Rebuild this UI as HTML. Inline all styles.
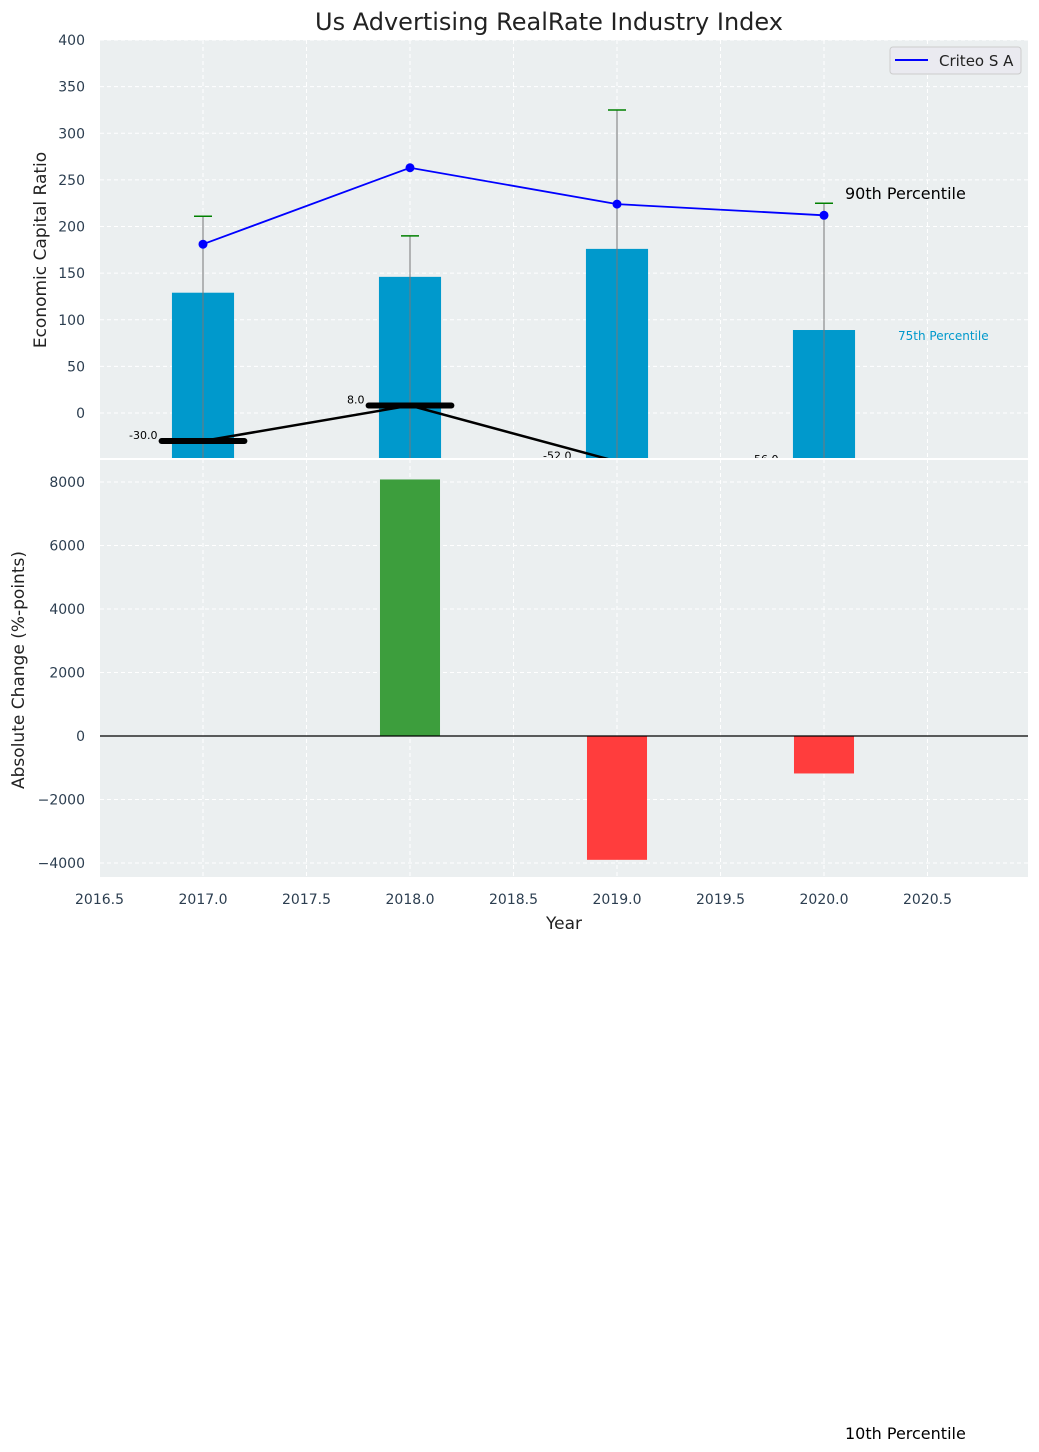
<!DOCTYPE html>
<html><head><meta charset="utf-8"><style>
body{margin:0;background:#fff;}
svg{display:block;font-family:"DejaVu Sans","Liberation Sans",sans-serif;}
</style></head><body>
<svg id="c" width="1039" height="1452" xmlns="http://www.w3.org/2000/svg"></svg>
<script>
const years=[2017,2018,2019,2020];
const barVals=[129,146,176,89];
const lineVals=[181,263,224,212];
const upperCaps=[211,190,325,225];
const medianVals=[-30,8,-52,-56];
const changeYears=[2018,2019,2020];
const changeVals=[8080,-3900,-1180];
const xTicks=[2016.5,2017.0,2017.5,2018.0,2018.5,2019.0,2019.5,2020.0,2020.5];
const yTicksTop=[0,50,100,150,200,250,300,350,400];
const yTicksBot=[-4000,-2000,0,2000,4000,6000,8000];

const NS="http://www.w3.org/2000/svg";
const svg=document.getElementById('c');
function mk(t,a,p){const e=document.createElementNS(NS,t);for(const k in a)e.setAttribute(k,a[k]);(p||svg).appendChild(e);return e;}
const L=100,R=1028;
const x=v=>99.5+(v-2016.5)*207;
const T0=40,T1=459,yT=v=>413-v*0.9325;
const B0=459,B1=877,yB=v=>736-v*0.03175;

// title
let t=mk('text',{x:549,y:30,'text-anchor':'middle','font-size':24,fill:'#222'});t.textContent='Us Advertising RealRate Industry Index';


// top panel
let g=mk('g',{'clip-path':'url(#ct)'});

let defs=mk('defs',{});
let cp=mk('clipPath',{id:'ct'},defs);mk('rect',{x:L,y:T0,width:R-L,height:T1-T0},cp);
let cp2=mk('clipPath',{id:'cb'},defs);mk('rect',{x:L,y:B0,width:R-L,height:B1-B0},cp2);
mk('rect',{x:L,y:T0,width:R-L,height:T1-T0,fill:'#ebeff0'},g);
xTicks.forEach(v=>mk('line',{x1:x(v),x2:x(v),y1:T0,y2:T1,stroke:'#fff','stroke-dasharray':'4,3','stroke-width':1},g));
yTicksTop.forEach(v=>mk('line',{x1:L,x2:R,y1:yT(v),y2:yT(v),stroke:'#fff','stroke-dasharray':'4,3','stroke-width':1},g));
years.forEach((yr,i)=>{
  const b=mk('rect',{x:x(yr-0.15),y:yT(barVals[i]),width:0.3*207,height:T1-yT(barVals[i])+5,fill:'#0099cc'},g);
  
  mk('line',{x1:x(yr),x2:x(yr),y1:yT(upperCaps[i]),y2:T1,stroke:'#777','stroke-width':1},g);
  const c=mk('line',{x1:x(yr)-9,x2:x(yr)+9,y1:yT(upperCaps[i]),y2:yT(upperCaps[i]),stroke:'green','stroke-width':1.5},g);
  
});
let p=mk('polyline',{points:years.map((yr,i)=>x(yr)+','+yT(lineVals[i])).join(' '),fill:'none',stroke:'blue','stroke-width':1.8},g);

years.forEach((yr,i)=>{const d=mk('circle',{cx:x(yr),cy:yT(lineVals[i]),r:4.5,fill:'blue'},g);
  });
let m=mk('polyline',{points:years.map((yr,i)=>x(yr)+','+yT(medianVals[i])).join(' '),fill:'none',stroke:'#000','stroke-width':2.5},g);

years.forEach((yr,i)=>{
  mk('line',{x1:x(yr-0.2),x2:x(yr+0.2),y1:yT(medianVals[i]),y2:yT(medianVals[i]),stroke:'#000','stroke-width':6,'stroke-linecap':'round'},g);
  const l=mk('text',{x:x(yr-0.22),y:yT(medianVals[i])-2,'text-anchor':'end','font-size':11,fill:'#000'},g);
  l.textContent=medianVals[i].toFixed(1);
  
});
t=mk('text',{x:845,y:199,'font-size':16,fill:'#000'});t.textContent='90th Percentile';

t=mk('text',{x:898,y:340,'font-size':12,fill:'#0099cc'});t.textContent='75th Percentile';

// legend
let lg=mk('g',{});
mk('rect',{x:890,y:47,width:131,height:27,rx:3,fill:'#eaeaf0',stroke:'#ccc'},lg);
mk('line',{x1:895,x2:928,y1:60,y2:60,stroke:'blue','stroke-width':2},lg);
t=mk('text',{x:939,y:66,'font-size':15,fill:'#222'},lg);t.textContent='Criteo S A';
// top y ticks
yTicksTop.forEach(v=>{const e=mk('text',{x:85,y:yT(v)+5,'text-anchor':'end','font-size':14,fill:'#2c3e50'});e.textContent=v;
  });
t=mk('text',{x:46,y:250,'text-anchor':'middle','font-size':17,fill:'#222',transform:'rotate(-90 46 250)'});t.textContent='Economic Capital Ratio';


// bottom panel
g=mk('g',{'clip-path':'url(#cb)'});

mk('rect',{x:L,y:B0,width:R-L,height:B1-B0,fill:'#ebeff0'},g);
xTicks.forEach(v=>mk('line',{x1:x(v),x2:x(v),y1:B0,y2:B1,stroke:'#fff','stroke-dasharray':'4,3'},g));
yTicksBot.forEach(v=>mk('line',{x1:L,x2:R,y1:yB(v),y2:yB(v),stroke:'#fff','stroke-dasharray':'4,3'},g));
changeYears.forEach((yr,i)=>{const v=changeVals[i];
  const b=mk('rect',{x:x(yr-0.145),y:Math.min(yB(v),yB(0)),width:0.29*207,height:Math.abs(yB(v)-yB(0)),fill:v>=0?'#3d9e3d':'#ff3d3d'},g);
  });
mk('line',{x1:L,x2:R,y1:yB(0),y2:yB(0),stroke:'#000','stroke-width':1.2},g);
mk('line',{x1:L,x2:R,y1:459,y2:459,stroke:'#fff','stroke-width':2});
yTicksBot.forEach(v=>{const e=mk('text',{x:85,y:yB(v)+5,'text-anchor':'end','font-size':14,fill:'#2c3e50'});e.textContent=v<0?'\u2212'+(-v):v;
  });
xTicks.forEach(v=>{const e=mk('text',{x:x(v),y:904,'text-anchor':'middle','font-size':14,fill:'#2c3e50'});e.textContent=v.toFixed(1);
  });
t=mk('text',{x:564,y:929,'text-anchor':'middle','font-size':17,fill:'#222'});t.textContent='Year';

t=mk('text',{x:24,y:670,'text-anchor':'middle','font-size':17,fill:'#222',transform:'rotate(-90 24 670)'});t.textContent='Absolute Change (%-points)';

t=mk('text',{x:845,y:1439,'font-size':16,fill:'#000'});t.textContent='10th Percentile';

</script>
</body></html>
